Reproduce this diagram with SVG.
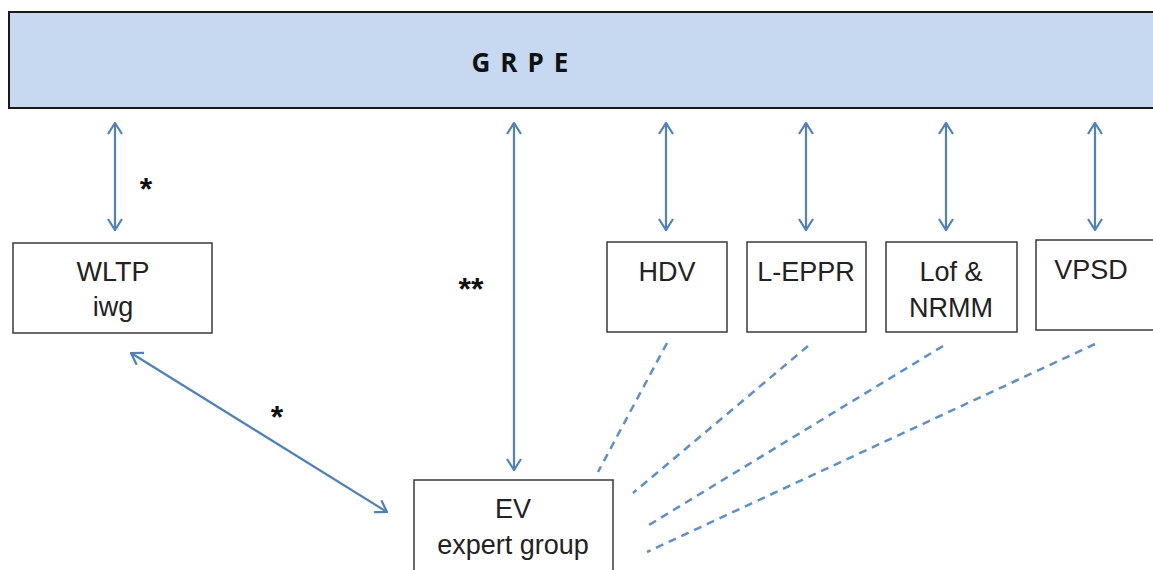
<svg xmlns="http://www.w3.org/2000/svg" width="1153" height="570" viewBox="0 0 1153 570">
<style>
.box{fill:#fff;stroke:#3a3a3a;stroke-width:1.5}
.lbl{font-family:"Liberation Sans",Arial,sans-serif;font-size:27px;fill:#222;text-anchor:middle}
.conn{stroke:#4f81bd;stroke-width:2.2;fill:none}
.dash{stroke:#5b8fd0;stroke-width:2.5;fill:none;stroke-dasharray:8 6}
.star{font-family:"Liberation Sans",Arial,sans-serif;font-size:32px;font-weight:bold;fill:#111;text-anchor:middle}
</style>
<defs>
<marker id="ah" viewBox="0 0 13 16" refX="12" refY="8" markerWidth="13" markerHeight="16" markerUnits="userSpaceOnUse" orient="auto-start-reverse">
<path d="M1,1 L12,8 L1,15" fill="none" stroke="#4f81bd" stroke-width="2.2"/>
</marker>
</defs>
<rect width="1153" height="570" fill="#fff"/>
<g id="grpe">
<rect x="9" y="12" width="1160" height="96" fill="#c6d9f0" stroke="#1a1a1a" stroke-width="2"/>
<text x="525" y="72" font-family="'Open Sans','Liberation Sans',sans-serif" font-size="26" font-weight="bold" fill="#111" text-anchor="middle" letter-spacing="10">GRPE</text>
</g>
<g id="wltp">
<rect class="box" x="13" y="243" width="199" height="90"/>
<text class="lbl" x="113" y="281">WLTP</text>
<text class="lbl" x="113" y="316">iwg</text>
</g>
<g id="hdv">
<rect class="box" x="607" y="242" width="120" height="90"/>
<text class="lbl" x="667" y="281">HDV</text>
</g>
<g id="leppr">
<rect class="box" x="747" y="242" width="119" height="90"/>
<text class="lbl" x="806" y="281">L-EPPR</text>
</g>
<g id="lof">
<rect class="box" x="886" y="242" width="131" height="90"/>
<text class="lbl" x="951" y="281">Lof &amp;</text>
<text class="lbl" x="951" y="317">NRMM</text>
</g>
<g id="vpsd">
<rect class="box" x="1036" y="240" width="130" height="90"/>
<text class="lbl" x="1091" y="279">VPSD</text>
</g>
<g id="ev">
<rect class="box" x="414" y="480" width="199" height="100"/>
<text class="lbl" x="513" y="518">EV</text>
<text class="lbl" x="513" y="554">expert group</text>
</g>
<g id="connectors">
<line class="conn" x1="115" y1="123" x2="115" y2="230" marker-start="url(#ah)" marker-end="url(#ah)"/>
<line class="conn" x1="514" y1="123" x2="514" y2="470" marker-start="url(#ah)" marker-end="url(#ah)"/>
<line class="conn" x1="666" y1="123" x2="666" y2="230" marker-start="url(#ah)" marker-end="url(#ah)"/>
<line class="conn" x1="806" y1="123" x2="806" y2="230" marker-start="url(#ah)" marker-end="url(#ah)"/>
<line class="conn" x1="946" y1="123" x2="946" y2="230" marker-start="url(#ah)" marker-end="url(#ah)"/>
<line class="conn" x1="1095" y1="123" x2="1095" y2="230" marker-start="url(#ah)" marker-end="url(#ah)"/>
<line class="conn" x1="131" y1="353" x2="387" y2="512" marker-start="url(#ah)" marker-end="url(#ah)"/>
<line class="dash" x1="667" y1="343" x2="598" y2="472"/>
<line class="dash" x1="808" y1="346" x2="633" y2="493"/>
<line class="dash" x1="943" y1="346" x2="644" y2="528"/>
<line class="dash" x1="1095" y1="344" x2="647" y2="552"/>
</g>
<g id="labels">
<text class="star" x="146" y="200">*</text>
<text class="star" x="471" y="300">**</text>
<text class="star" x="277" y="428">*</text>
</g>
</svg>
